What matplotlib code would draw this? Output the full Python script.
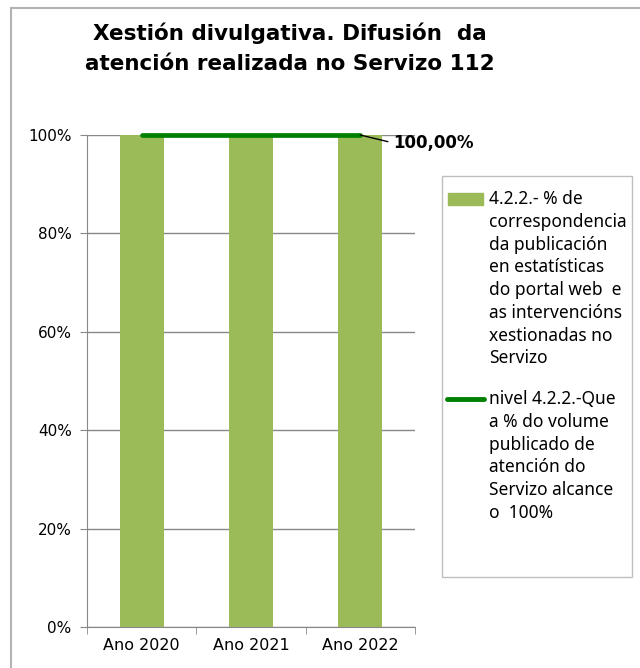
import numpy as np
import matplotlib.pyplot as plt
from matplotlib.patches import Rectangle
from matplotlib.lines import Line2D

# datos
anos = ['Ano 2020', 'Ano 2021', 'Ano 2022']
correspondencia = [1.0, 1.0, 1.0]
nivel = [1.0, 1.0, 1.0]
etiqueta_nivel = '100,00%'
yticks = [0, 0.2, 0.4, 0.6, 0.8, 1.0]
ytick_labels = ['0%', '20%', '40%', '60%', '80%', '100%']

titulo = 'Xestión divulgativa. Difusión  da\natención realizada no Servizo 112'
leg_barras = ('4.2.2.- % de\ncorrespondencia\nda publicación\nen estatísticas\n'
              'do portal web  e\nas intervencións\nxestionadas no\nServizo')
leg_linha = ('nivel 4.2.2.-Que\na % do volume\npublicado de\natención do\n'
             'Servizo alcance\no  100%')

W, H = 640, 668
fig = plt.figure(figsize=(W / 100, H / 100), dpi=100)

def fx(px):
    return px / W

def fy(py):
    return 1 - py / H

# marco exterior (recortado pola dereita e por abaixo)
fig.patches.append(Rectangle((fx(10.5), -0.05), 1.2, fy(8) + 0.05,
                             transform=fig.transFigure, fill=False,
                             edgecolor='#b3b3b3', lw=1.5))

ax = fig.add_axes([fx(87), fy(627), fx(415) - fx(87), fy(135) - fy(627)])
x = np.arange(len(anos))

ax.bar(x, correspondencia, width=0.4, color='#9bbb59', zorder=2)
ax.plot(x, nivel, color='#008000', lw=3.4, solid_capstyle='round', zorder=3,
        clip_on=False)

ax.annotate(etiqueta_nivel, xy=(x[-1], nivel[-1]), xytext=(33, -8),
            textcoords='offset pixels', ha='left', va='center',
            fontsize=12, fontweight='bold', family='DejaVu Sans',
            arrowprops=dict(arrowstyle='-', color='black', lw=1,
                            shrinkA=2, shrinkB=0, relpos=(0, 0.5)))

ax.set_xlim(-0.5, 2.5)
ax.set_ylim(0, 1)
ax.set_yticks(yticks)
ax.set_yticklabels(ytick_labels, fontsize=11)
ax.set_xticks(x)
ax.set_xticklabels(anos, fontsize=11.5)
ax.set_xticks([-0.5, 0.5, 1.5, 2.5], minor=True)
ax.tick_params(axis='x', which='major', length=0, pad=8)
ax.tick_params(axis='x', which='minor', length=5, color='#888888')
ax.tick_params(axis='y', length=5, color='#888888', pad=6)
ax.grid(axis='y', color='#888888', lw=1, zorder=0)
for s in ['top', 'right']:
    ax.spines[s].set_visible(False)
for s in ['left', 'bottom']:
    ax.spines[s].set_color('#888888')

fig.text(fx(290), fy(48), titulo, ha='center', va='center', fontsize=15.5,
         fontweight='bold', family='DejaVu Sans', linespacing=1.6)

# lenda
fig.patches.append(Rectangle((fx(442), fy(577)), fx(632) - fx(442), fy(176) - fy(577),
                             transform=fig.transFigure, fill=False,
                             edgecolor='#bfbfbf', lw=1))
fig.patches.append(Rectangle((fx(448), fy(205)), fx(483) - fx(448), fy(193) - fy(205),
                             transform=fig.transFigure, color='#9bbb59'))
fig.lines.append(Line2D([fx(447), fx(484)], [fy(399), fy(399)], transform=fig.transFigure,
                        color='#008000', lw=3.5, solid_capstyle='round'))
fig.text(fx(489), fy(190), leg_barras, ha='left', va='top', fontsize=12.5,
         family='Noto Sans', linespacing=1.34)
fig.text(fx(489), fy(390), leg_linha, ha='left', va='top', fontsize=12.5,
         family='Noto Sans', linespacing=1.34)

fig.savefig('out.png', dpi=100)
